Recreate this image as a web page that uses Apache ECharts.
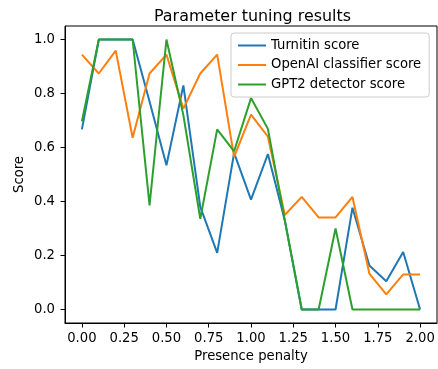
<!DOCTYPE html>
<html>
<head>
<meta charset="utf-8">
<script src="https://cdn.jsdelivr.net/npm/echarts@6/dist/echarts.min.js"></script>
<style>html,body{margin:0;padding:0;background:#fff}#c{width:438px;height:369px}</style>
</head>
<body>
<div id="c"></div>
<script>
const presencePenalty = [0.0,0.1,0.2,0.3,0.4,0.5,0.6,0.7,0.8,0.9,1.0,1.1,1.2,1.3,1.4,1.5,1.6,1.7,1.8,1.9,2.0];
const turnitinScore = [0.667,1.0,1.0,1.0,0.77,0.534,0.83,0.38,0.21,0.58,0.407,0.576,0.33,0,0,0,0.377,0.163,0.105,0.213,0];
const openaiScore = [0.944,0.874,0.959,0.636,0.874,0.944,0.744,0.874,0.944,0.565,0.722,0.64,0.35,0.417,0.341,0.341,0.417,0.133,0.056,0.13,0.13];
const gpt2Score = [0.697,1.0,1.0,1.0,0.386,1.0,0.72,0.336,0.667,0.586,0.783,0.669,0.33,0,0,0.3,0,0,0,0,0];
const xTicks = [0,0.25,0.5,0.75,1.0,1.25,1.5,1.75,2.0];
const yTicks = [0,0.2,0.4,0.6,0.8,1.0];
const seriesNames = ['Turnitin score','OpenAI classifier score','GPT2 detector score'];
const colors = ['#1f77b4','#ff7f0e','#2ca02c'];

const font = 'DejaVu Sans';
const fs = 13.2;
const chart = echarts.init(document.getElementById('c'), null, {renderer:'canvas'});
const mk = (name, vals, color) => ({
  name, type:'line', data: presencePenalty.map((x,i)=>[x, vals[i]]),
  showSymbol:false, symbol:'none', lineStyle:{color, width:2}, itemStyle:{color},
  animation:false
});
chart.setOption({
  animation:false,
  textStyle:{fontFamily:font},
  title:{text:'Parameter tuning results', left:149, top:4,
    textStyle:{fontFamily:font, fontSize:15.9, fontWeight:'normal', color:'#000'}},
  grid:{left:65, right:1, top:26, bottom:46, show:true, borderColor:'#000', borderWidth:1},
  legend:{
    orient:'vertical', left:231, top:33, data:seriesNames,
    icon:'rect', itemWidth:28, itemHeight:2, itemGap:6.5,
    padding:[6,8,6,7], borderColor:'#ccc', borderWidth:1, borderRadius:3,
    backgroundColor:'rgba(255,255,255,0.8)',
    textStyle:{fontFamily:font, fontSize:fs, color:'#000'}
  },
  xAxis:{
    type:'value', min:-0.1, max:2.1,
    name:'Presence penalty', nameLocation:'middle', nameGap:27,
    nameTextStyle:{fontFamily:font, fontSize:fs, color:'#000'},
    splitLine:{show:false},
    axisLine:{show:true, onZero:false, lineStyle:{color:'#000'}},
    axisTick:{show:true, length:4.5, customValues:xTicks, lineStyle:{color:'#000'}},
    axisLabel:{customValues:xTicks, margin:9, fontFamily:font, fontSize:fs, color:'#000',
      formatter:v=>v.toFixed(2)}
  },
  yAxis:{
    type:'value', min:-0.05, max:1.05,
    name:'Score', nameLocation:'middle', nameGap:39, nameRotate:90, nameMoveOverlap:false,
    nameTextStyle:{fontFamily:font, fontSize:fs, color:'#000'},
    splitLine:{show:false},
    axisLine:{show:true, onZero:false, lineStyle:{color:'#000'}},
    axisTick:{show:true, length:4.5, customValues:yTicks, lineStyle:{color:'#000'}},
    axisLabel:{customValues:yTicks, margin:10, fontFamily:font, fontSize:fs, color:'#000',
      formatter:v=>v.toFixed(1)}
  },
  series:[
    mk(seriesNames[0], turnitinScore, colors[0]),
    mk(seriesNames[1], openaiScore, colors[1]),
    mk(seriesNames[2], gpt2Score, colors[2])
  ]
});
</script>
</body>
</html>
